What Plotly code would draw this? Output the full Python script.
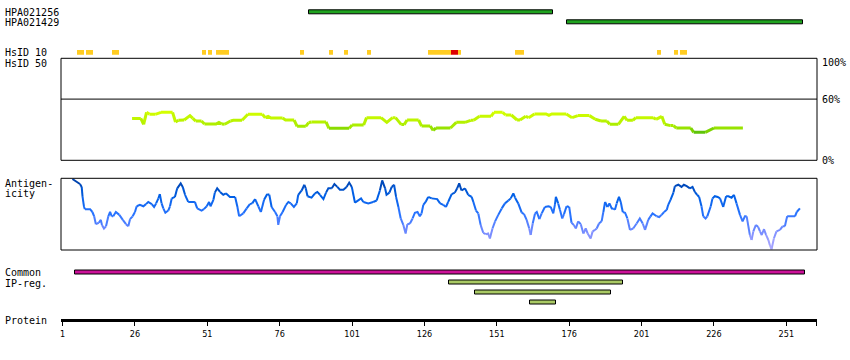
import plotly.graph_objects as go

# ---------------- data ----------------
ab_names = ["HPA021256", "HPA021429"]
ab_start = [86.2, 175.3]
ab_end = [170.3, 256.6]

hsid10_start = [5.97, 9.08, 18.06, 49.15, 51.22, 53.98, 83.0, 93.02, 98.2, 106.1,
                127.2, 135.2, 137.6, 157.3, 206.4, 212.3, 214.4]
hsid10_end = [8.39, 11.5, 20.48, 50.43, 52.6, 58.47, 84.28, 94.3, 99.6, 107.5,
              135.2, 137.6, 138.6, 160.4, 207.8, 213.7, 216.8]
hsid10_level = ["mid"] * 11 + ["high"] + ["mid"] * 5

hsid50_res = [25, 28, 29, 30, 31, 33, 34, 35, 39, 40, 41, 43, 45, 46, 47, 49, 50, 54, 55, 56,
              57, 59, 60, 63, 65, 70, 71, 72, 73, 77, 78, 81, 82, 85, 86, 87, 92, 93, 100, 101,
              105, 106, 111, 113, 115, 116, 118, 119, 120, 124, 125, 128, 129, 130, 135, 137,
              140, 142, 143, 145, 149, 150, 153, 154, 156, 158, 159, 161, 162, 164, 168, 169,
              170, 175, 177, 179, 183, 185, 187, 189, 190, 193, 195, 196, 198, 199, 205, 206,
              208, 209, 211, 212, 213, 218, 219, 223, 226, 236]
hsid50_pct = [41.1, 41.1, 35.3, 47.0, 45.1, 45.1, 46.0, 47.0, 47.0, 37.5, 39.2, 39.5, 43.8,
              41.1, 38.5, 38.5, 35.6, 35.6, 37.2, 35.6, 35.3, 38.5, 39.2, 39.2, 45.1, 45.1,
              41.8, 43.1, 41.5, 41.5, 39.5, 39.5, 33.3, 33.3, 37.0, 37.6, 37.6, 31.3, 31.3,
              34.6, 34.6, 41.8, 41.8, 37.2, 41.8, 41.8, 35.0, 35.0, 39.5, 39.5, 33.6, 33.6,
              29.4, 31.7, 31.7, 37.2, 37.2, 39.2, 39.2, 43.1, 43.1, 47.0, 47.0, 44.4, 44.4,
              39.5, 39.5, 43.1, 41.8, 45.4, 45.4, 44.1, 45.4, 45.4, 41.8, 43.8, 43.8, 40.2,
              38.5, 38.5, 35.3, 35.3, 43.1, 39.2, 39.2, 41.8, 41.8, 40.2, 43.1, 35.3, 34.0,
              34.0, 31.7, 31.7, 27.4, 27.4, 31.7, 31.7]

antigen_res = [4.4, 5.9, 7.0, 7.6, 7.9, 8.4, 8.7, 10.5, 11.3, 11.9, 12.5, 13.5, 14.2, 14.6, 15.3,
               16.0, 16.8, 17.4, 18.0, 18.5, 19.4, 20.6, 21.8, 22.9, 23.7, 24.3, 25.2, 26.0,
               26.6, 27.7, 28.9, 29.8, 30.6, 31.8, 32.6, 33.3, 34.1, 34.6, 35.2, 35.8, 36.5,
               37.5, 38.1, 38.7, 39.8, 40.6, 41.8, 42.5, 43.3, 44.4, 46.7, 47.5, 49.0, 49.8,
               50.8, 51.6, 52.1, 53.1, 53.6, 54.4, 55.4, 56.5, 57.4, 58.8, 60.6, 61.4, 62.0,
               63.4, 64.6, 65.7, 66.5, 67.5, 68.6, 69.5, 70.6, 71.7, 72.4, 73.2, 74.4, 75.2,
               75.5, 76.1, 77.0, 78.2, 79.0, 79.8, 80.9, 81.9, 82.4, 83.6, 84.5, 85.0, 85.6,
               87.0, 88.2, 89.0, 89.9, 91.1, 92.0, 92.8, 94.0, 94.9, 95.9, 96.8, 98.0, 99.1,
               100.0, 100.9, 102.0, 103.2, 104.1, 104.9, 106.6, 108.3, 109.5, 110.6, 111.4,
               112.4, 112.9, 113.9, 114.7, 115.5, 116.2, 117.0, 117.8, 118.7, 119.5, 120.1,
               121.0, 121.9, 122.7, 123.6, 124.4, 125.0, 125.6, 126.4, 127.3, 128.5, 129.6,
               130.4, 131.4, 132.5, 133.4, 134.2, 135.4, 136.5, 137.3, 138.0, 138.8, 140.0,
               141.1, 142.3, 142.9, 143.8, 144.6, 145.4, 146.3, 147.2, 148.0, 148.6, 149.5,
               150.4, 151.5, 152.7, 153.8, 155.0, 155.8, 156.7, 157.3, 158.4, 159.6, 160.4,
               161.3, 162.2, 162.7, 163.4, 164.2, 164.8, 165.7, 166.5, 167.6, 168.8, 169.6,
               170.5, 171.1, 171.4, 172.2, 172.8, 173.6, 174.2, 175.1, 176.0, 176.8, 177.6,
               178.3, 179.1, 180.0, 180.9, 181.7, 182.4, 183.4, 184.1, 184.9, 185.5, 186.3,
               187.2, 187.8, 188.4, 189.2, 189.9, 190.7, 191.2, 191.8, 192.4, 193.2, 193.8,
               194.5, 195.3, 196.1, 197.0, 198.1, 199.3, 200.4, 201.4, 202.2, 203.3, 204.1,
               204.8, 206.2, 207.1, 207.9, 208.8, 209.7, 210.2, 211.0, 212.0, 212.5, 213.7,
               214.8, 215.6, 216.6, 217.7, 218.6, 219.4, 220.2, 220.9, 221.7, 222.3, 223.1,
               223.7, 224.9, 225.5, 226.3, 227.3, 228.1, 229.2, 230.2, 231.0, 232.1, 232.9,
               233.8, 235.0, 235.9, 236.7, 237.3, 238.4, 239.0, 239.6, 240.5, 241.3, 241.9,
               242.5, 243.3, 244.0, 244.8, 245.3, 245.9, 246.7, 247.6, 248.8, 249.7, 250.5,
               251.3, 252.8, 254.0, 254.6, 255.7]
antigen_score = [0.99, 0.95, 0.92, 0.88, 0.74, 0.60, 0.57, 0.57, 0.53, 0.47, 0.36, 0.38, 0.42,
                 0.35, 0.30, 0.33, 0.47, 0.53, 0.47, 0.47, 0.53, 0.49, 0.42, 0.36, 0.33, 0.43,
                 0.47, 0.53, 0.61, 0.63, 0.61, 0.64, 0.67, 0.64, 0.60, 0.65, 0.72, 0.78, 0.65,
                 0.58, 0.52, 0.55, 0.61, 0.72, 0.74, 0.86, 0.93, 0.88, 0.77, 0.67, 0.67, 0.58,
                 0.55, 0.57, 0.61, 0.67, 0.61, 0.70, 0.80, 0.86, 0.81, 0.77, 0.79, 0.74, 0.74,
                 0.60, 0.47, 0.51, 0.58, 0.64, 0.65, 0.71, 0.61, 0.53, 0.70, 0.78, 0.77, 0.60,
                 0.53, 0.47, 0.35, 0.47, 0.53, 0.63, 0.67, 0.65, 0.60, 0.65, 0.77, 0.83, 0.91,
                 0.86, 0.75, 0.73, 0.79, 0.81, 0.77, 0.71, 0.80, 0.86, 0.86, 0.92, 0.88, 0.84,
                 0.84, 0.88, 0.94, 0.88, 0.66, 0.69, 0.72, 0.67, 0.65, 0.67, 0.69, 0.83, 0.97,
                 0.86, 0.77, 0.80, 0.88, 0.91, 0.74, 0.60, 0.44, 0.35, 0.23, 0.36, 0.37, 0.44,
                 0.52, 0.53, 0.47, 0.51, 0.63, 0.67, 0.74, 0.72, 0.71, 0.71, 0.65, 0.63, 0.60,
                 0.67, 0.78, 0.80, 0.86, 0.93, 0.83, 0.86, 0.77, 0.74, 0.67, 0.55, 0.51, 0.35,
                 0.24, 0.22, 0.23, 0.16, 0.30, 0.40, 0.49, 0.58, 0.65, 0.69, 0.72, 0.79, 0.73,
                 0.65, 0.52, 0.50, 0.42, 0.30, 0.21, 0.37, 0.51, 0.53, 0.43, 0.51, 0.60, 0.61,
                 0.60, 0.51, 0.64, 0.74, 0.65, 0.56, 0.44, 0.50, 0.61, 0.60, 0.38, 0.35, 0.30,
                 0.40, 0.36, 0.23, 0.30, 0.23, 0.16, 0.26, 0.28, 0.30, 0.37, 0.40, 0.53, 0.67,
                 0.60, 0.65, 0.58, 0.58, 0.56, 0.65, 0.74, 0.67, 0.53, 0.52, 0.44, 0.28, 0.30,
                 0.37, 0.44, 0.37, 0.28, 0.42, 0.47, 0.51, 0.47, 0.46, 0.49, 0.53, 0.56, 0.63,
                 0.70, 0.80, 0.89, 0.91, 0.88, 0.91, 0.89, 0.86, 0.88, 0.81, 0.77, 0.74, 0.61,
                 0.47, 0.44, 0.47, 0.61, 0.72, 0.75, 0.74, 0.72, 0.60, 0.75, 0.75, 0.73, 0.77,
                 0.65, 0.49, 0.40, 0.47, 0.47, 0.21, 0.14, 0.26, 0.35, 0.32, 0.26, 0.21, 0.29,
                 0.21, 0.14, 0.07, 0.01, 0.16, 0.26, 0.28, 0.33, 0.33, 0.47, 0.47, 0.47, 0.53,
                 0.58]

common_start = [5.13]
common_end = [257.4]
ip_start = [134.4, 143.3, 162.4]
ip_end = [194.5, 190.3, 171.4]

tick_vals = [1, 26, 51, 76, 101, 126, 151, 176, 201, 226, 251]
tick_text = ["1", "26", "51", "76", "101", "126", "151", "176", "201", "226", "251"]
pct_ticks = [100, 60, 0]
pct_labels = ["100%", "60%", "0%"]

# ---------------- layout helpers ----------------
W, H = 850, 360
ML, MR = 61, 33
PW = W - ML - MR
X_RANGE = [0.45, 261.6]
MONO = "DejaVu Sans Mono"


def py(px):
    return 1 - px / H


def interp_color(v, stops):
    if v <= stops[0][0]:
        return stops[0][1]
    for (a, ca), (b, cb) in zip(stops[:-1], stops[1:]):
        if v <= b:
            t = (v - a) / (b - a)
            return tuple(int(round(ca[i] + (cb[i] - ca[i]) * t)) for i in range(3))
    return stops[-1][1]


green_stops = [(27, (95, 195, 10)), (30, (125, 212, 0)), (33, (165, 235, 0)),
               (40, (190, 245, 0)), (47, (212, 255, 0))]
blue_stops = [(0.0, (185, 175, 255)), (0.25, (120, 140, 255)), (0.5, (40, 115, 255)),
              (0.75, (0, 95, 230)), (1.0, (0, 60, 160))]


def colored_traces(xs, ys, stops, q, width, yaxis):
    groups = {}
    order = []
    prev_key = None
    for i in range(len(xs) - 1):
        m = (ys[i] + ys[i + 1]) / 2
        key = round(m / q) * q
        if key not in groups:
            groups[key] = ([], [])
            order.append(key)
        gx, gy = groups[key]
        if prev_key == key and gx:
            gx.append(xs[i + 1]); gy.append(ys[i + 1])
        else:
            if gx:
                gx.append(None); gy.append(None)
            gx.extend([xs[i], xs[i + 1]]); gy.extend([ys[i], ys[i + 1]])
        prev_key = key
    out = []
    for key in order:
        c = interp_color(key, stops)
        gx, gy = groups[key]
        out.append(go.Scatter(x=gx, y=gy, mode="lines", xaxis="x", yaxis=yaxis,
                              line=dict(color="rgb(%d,%d,%d)" % c, width=width),
                              hoverinfo="skip", showlegend=False))
    return out


fig = go.Figure()

# antibody bars
fig.add_trace(go.Bar(y=[0, 1], base=ab_start, x=[e - s for s, e in zip(ab_start, ab_end)],
                     orientation="h", width=0.46, xaxis="x", yaxis="y5",
                     marker=dict(color="#1fa31f", line=dict(color="black", width=1)),
                     showlegend=False, hoverinfo="skip"))

# HsID 10 bars
lvl_col = {"mid": "#ffcc22", "high": "#dd0000"}
fig.add_trace(go.Bar(y=[0] * len(hsid10_start), base=hsid10_start,
                     x=[e - s for s, e in zip(hsid10_start, hsid10_end)],
                     orientation="h", width=1, xaxis="x", yaxis="y4",
                     marker=dict(color=[lvl_col[l] for l in hsid10_level], line=dict(width=0)),
                     showlegend=False, hoverinfo="skip"))

# HsID 50 line
for t in colored_traces(hsid50_res, hsid50_pct, green_stops, 1.0, 3, "y3"):
    fig.add_trace(t)

# Antigenicity line
for t in colored_traces(antigen_res, antigen_score, blue_stops, 0.05, 2, "y2"):
    fig.add_trace(t)

# Common / IP-reg bars
fig.add_trace(go.Bar(y=[0], base=common_start, x=[e - s for s, e in zip(common_start, common_end)],
                     orientation="h", width=0.42, xaxis="x", yaxis="y6",
                     marker=dict(color="#cc1199", line=dict(color="black", width=1)),
                     showlegend=False, hoverinfo="skip"))
fig.add_trace(go.Bar(y=[1, 2, 3], base=ip_start, x=[e - s for s, e in zip(ip_start, ip_end)],
                     orientation="h", width=0.42, xaxis="x", yaxis="y6",
                     marker=dict(color="#a9c964", line=dict(color="black", width=1)),
                     showlegend=False, hoverinfo="skip"))

hidden = dict(visible=False, fixedrange=True)
fig.update_layout(
    width=W, height=H, autosize=False,
    margin=dict(l=ML, r=MR, t=0, b=0, pad=0),
    paper_bgcolor="white", plot_bgcolor="rgba(0,0,0,0)",
    barmode="overlay", bargap=0,
    xaxis=dict(range=X_RANGE, anchor="free", position=py(320), showgrid=False, zeroline=False,
               showline=True, linecolor="black", linewidth=3, ticks="outside", ticklen=4,
               tickwidth=1, tickcolor="black", tickvals=tick_vals + [261.5],
               ticktext=tick_text + [""],
               tickfont=dict(family="Liberation Sans Narrow, DejaVu Sans Condensed, sans-serif",
                             size=9, color="black")),
    yaxis2=dict(domain=[py(250), py(178.3)], range=[0, 1], **hidden),
    yaxis3=dict(domain=[py(160.3), py(58.3)], range=[0, 100], **hidden),
    yaxis4=dict(domain=[py(54.7), py(50)], range=[-0.5, 0.5], **hidden),
    yaxis5=dict(domain=[py(27.3), py(7.3)], range=[1.5, -0.5], **hidden),
    yaxis6=dict(domain=[py(307.5), py(267.5)], range=[3.5, -0.5], **hidden),
)
fig.update_layout(yaxis=dict(domain=[0, 1], **hidden))

shapes = []
for ax in ["y2", "y3"]:
    shapes.append(dict(type="rect", xref="paper", x0=0, x1=1, yref=ax + " domain", y0=0, y1=1,
                       line=dict(color="black", width=1), fillcolor="rgba(0,0,0,0)", layer="above"))
shapes.append(dict(type="line", xref="paper", x0=0, x1=1, yref="y3", y0=60, y1=60,
                   line=dict(color="black", width=1)))
fig.update_layout(shapes=shapes)

ann = []
lx = (3 - ML) / PW
left_labels = [(ab_names[0], 12.5), (ab_names[1], 22.5), ("HsID 10", 52.5), ("HsID 50", 63),
               ("Antigen-", 183), ("icity", 193), ("Common", 272.5), ("IP-reg.", 283),
               ("Protein", 320)]
for txt, ypx in left_labels:
    ann.append(dict(text=txt, xref="paper", x=lx, xanchor="left", yref="paper", y=py(ypx),
                    yanchor="middle", showarrow=False,
                    font=dict(family=MONO, size=10, color="black")))
shift = {100: -4, 60: 0, 0: 0}
for v, t in zip(pct_ticks, pct_labels):
    ann.append(dict(text=t, xref="paper", x=(820 - ML) / PW, xanchor="left", yref="y3", y=v,
                    yanchor="middle", yshift=shift[v], showarrow=False,
                    font=dict(family=MONO, size=10, color="black")))
fig.update_layout(annotations=ann)

fig.write_html("out.html", config={"displayModeBar": False},
               post_script="document.body.style.margin='0';document.body.style.overflow='hidden';")
